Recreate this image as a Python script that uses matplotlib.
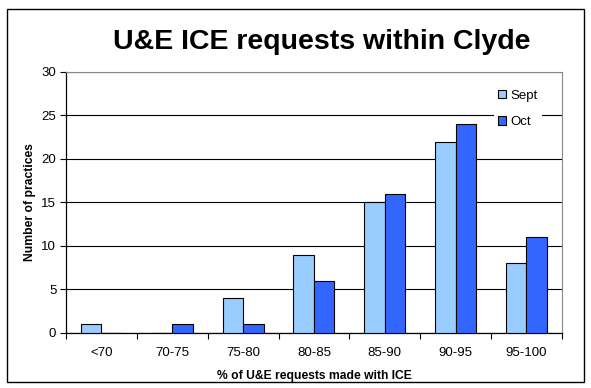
import numpy as np
import matplotlib
matplotlib.use('Agg')
import matplotlib.pyplot as plt
from matplotlib.patches import Rectangle

categories = ['<70', '70-75', '75-80', '80-85', '85-90', '90-95', '95-100']
sept = [1, 0, 4, 9, 15, 22, 8]
oct_ = [0, 1, 1, 6, 16, 24, 11]

plt.rcParams['font.family'] = ['Liberation Sans', 'DejaVu Sans']

fig = plt.figure(figsize=(5.91, 3.88), dpi=100)
ax = fig.add_axes([0.1117, 0.1418, 0.839, 0.6727])

x = np.arange(len(categories))
w = 0.29
ax.bar(x - w / 2, sept, w, color='#99CCFF', edgecolor='black', linewidth=0.8, label='Sept', zorder=3)
ax.bar(x + w / 2, oct_, w, color='#3366FF', edgecolor='black', linewidth=0.8, label='Oct', zorder=3)

ax.set_xlim(-0.5, len(categories) - 0.5)
ax.set_ylim(0, 30)
ax.set_yticks(range(0, 31, 5))
ax.yaxis.grid(True, color='black', linewidth=0.8, zorder=0)
ax.set_axisbelow(True)

ax.set_xticks(x)
ax.set_xticklabels(categories)
ax.set_xticks(np.arange(-0.5, len(categories), 1), minor=True)
ax.tick_params(axis='x', which='major', length=0, labelsize=9.5, pad=10)
ax.tick_params(axis='x', which='minor', length=4, width=0.8, direction='out')
ax.tick_params(axis='y', length=4, width=0.8, labelsize=9.5, pad=3)

for side in ['top', 'right']:
    ax.spines[side].set_color('#888888')
ax.spines['left'].set_linewidth(0.9)
ax.spines['bottom'].set_linewidth(0.9)

ax.set_xlabel('% of U&E requests made with ICE', fontsize=8.7, fontweight='bold', labelpad=8)
ax.set_ylabel('Number of practices', fontsize=8.7, fontweight='bold', labelpad=4)

leg = ax.legend(loc='upper right', bbox_to_anchor=(0.96, 0.95), fontsize=9.5, frameon=True,
                handlelength=0.6, handleheight=0.6, handletextpad=0.3, borderpad=0.35,
                borderaxespad=0, labelspacing=1.1, fancybox=False)
leg.get_frame().set_edgecolor('none')
leg.get_frame().set_facecolor('white')
leg.get_frame().set_alpha(1)

fig.text(0.545, 0.892, 'U&E ICE requests within Clyde', ha='center', va='center',
         fontsize=20.5, fontweight='bold')

fig.patches.append(Rectangle((0.012, 0.015), 0.977, 0.962, transform=fig.transFigure,
                             fill=False, edgecolor='black', linewidth=1.0))

fig.savefig('out.png', dpi=100)
